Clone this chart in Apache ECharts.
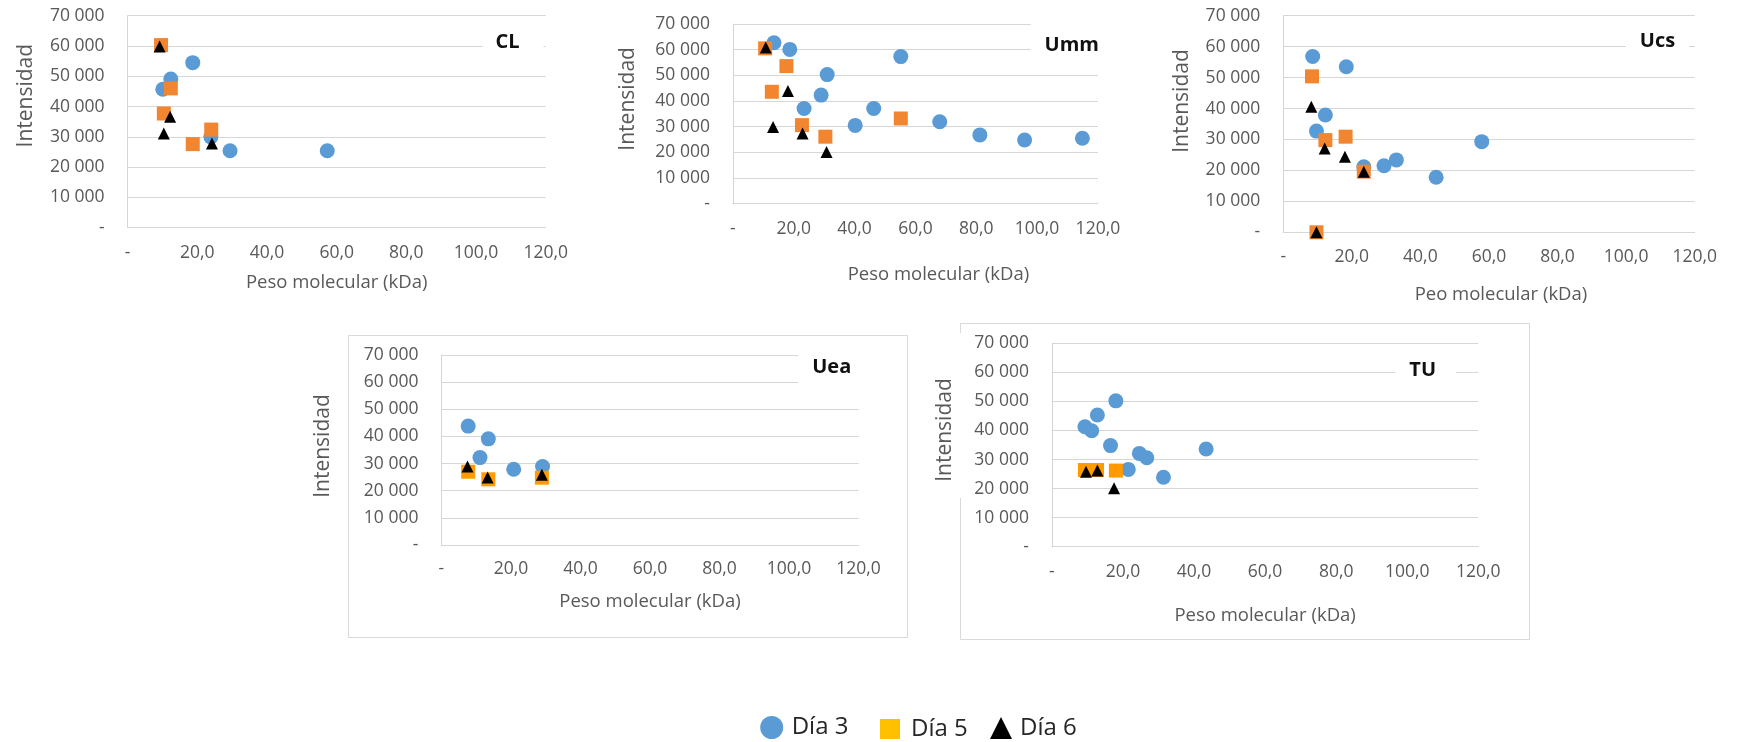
<!DOCTYPE html>
<html>
<head>
<meta charset="utf-8">
<title>Intensidad vs peso molecular</title>
<script src="https://cdn.jsdelivr.net/npm/echarts@6/dist/echarts.min.js"></script>
<style>
  html, body { margin: 0; padding: 0; background: #fff; }
  #chart { width: 1742px; height: 742px; }
</style>
</head>
<body>
<div id="chart"></div>
<script>
// Series names and data: [peso molecular (kDa), intensidad]
const dayNames = ['Día 3', 'Día 5', 'Día 6'];

const clDia3 = [[10.1, 45700], [12.4, 49100], [18.7, 54500], [23.9, 30000], [29.4, 25400], [57.3, 25400]];
const clDia5 = [[9.6, 60300], [12.4, 46000], [10.4, 37700], [18.7, 27600], [24.0, 32400]];
const clDia6 = [[9.2, 59800], [12.2, 36600], [10.4, 31100], [24.2, 27800]];

const ummDia3 = [[13.5, 62700], [18.7, 60100], [31.0, 50300], [29.0, 42300], [23.4, 37100], [40.2, 30500],
                 [46.3, 37100], [55.2, 57300], [68.0, 31900], [81.2, 26800], [95.9, 24800], [114.9, 25500]];
const ummDia5 = [[10.6, 60500], [17.6, 53600], [12.8, 43600], [22.7, 30600], [30.4, 26100], [55.2, 33200]];
const ummDia6 = [[10.8, 60800], [18.1, 43900], [13.2, 29900], [22.9, 27300], [30.8, 20100]];

const ucsDia3 = [[8.6, 56800], [18.4, 53500], [12.3, 37900], [9.7, 32700], [23.5, 21200], [29.4, 21500],
                 [33.0, 23400], [44.6, 17800], [57.9, 29300]];
const ucsDia5 = [[8.4, 50400], [12.3, 29800], [18.2, 30900], [23.5, 19600], [9.7, 0]];
const ucsDia6 = [[8.2, 40600], [12.1, 27100], [18.0, 24400], [23.5, 19600], [9.7, 0]];

const ueaDia3 = [[7.7, 43800], [13.5, 39100], [11.1, 32200], [20.8, 27900], [29.1, 28900]];
const ueaDia5 = [[7.7, 27000], [13.5, 24200], [28.9, 24800]];
const ueaDia6 = [[7.5, 28900], [13.3, 24900], [28.9, 25900]];

const tuDia3 = [[9.3, 41300], [11.2, 39900], [12.8, 45300], [18.0, 50200], [16.5, 34800], [24.6, 32100],
                [26.7, 30600], [21.5, 26600], [31.4, 23900], [43.4, 33600]];
const tuDia5 = [[9.3, 26400], [12.7, 26400], [18.0, 26200]];
const tuDia6 = [[9.6, 25800], [12.8, 26200], [17.5, 20100]];

// Axis ranges shared by all panels
const xMax = 120, xStep = 20;
const yMax = 70000, yStep = 10000;

const panels = [
  { title: 'CL',  xName: 'Peso molecular (kDa)', yName: 'Intensidad', series: [clDia3, clDia5, clDia6] },
  { title: 'Umm', xName: 'Peso molecular (kDa)', yName: 'Intensidad', series: [ummDia3, ummDia5, ummDia6] },
  { title: 'Ucs', xName: 'Peo molecular (kDa)',  yName: 'Intensidad', series: [ucsDia3, ucsDia5, ucsDia6] },
  { title: 'Uea', xName: 'Peso molecular (kDa)', yName: 'Intensidad', series: [ueaDia3, ueaDia5, ueaDia6] },
  { title: 'TU',  xName: 'Peso molecular (kDa)', yName: 'Intensidad', series: [tuDia3, tuDia5, tuDia6] }
];

// Placement of each small chart on the page
const layout = [
  { grid: { left: 127.6, top: 15.7, width: 418.1, height: 212 },
    title: { cx: 507.6, cy: 42.7, pad: [6, 24, 6, 13] },
    xGap: 46, xShift: 0, yGap: 91, yShift: 26, labelMargin: 16, square: '#F28530' },
  { grid: { left: 732.9, top: 24, width: 365, height: 179.7 },
    title: { cx: 1071.8, cy: 45, pad: [13, 8, 13, 14] },
    xGap: 62, xShift: 23, yGap: 94, yShift: 15, labelMargin: 16, square: '#F28530' },
  { grid: { left: 1283.2, top: 15.7, width: 411.5, height: 216.6 },
    title: { cx: 1657.5, cy: 41.7, pad: [5, 14, 5, 14] },
    xGap: 53, xShift: 12, yGap: 91, yShift: 23, labelMargin: 16, square: '#F28530' },
  { grid: { left: 441.4, top: 355, width: 417.2, height: 190 },
    title: { cx: 831.7, cy: 367.3, pad: [7, 14, 7, 14] },
    xGap: 47, xShift: 0, yGap: 108, yShift: 4, labelMargin: 15, square: '#FF9A00' },
  { grid: { left: 1051.9, top: 343.3, width: 426.4, height: 203.4 },
    title: { cx: 1422.7, cy: 370.7, pad: [5, 20, 5, 14] },
    xGap: 60, xShift: 0, yGap: 96, yShift: 15, labelMargin: 16, square: '#FF9A00' }
];

// Legend entries: icon, colour, icon size, icon left edge, gap before text
const legendItems = [
  { name: 'Día 3', icon: 'circle',   color: '#5B9BD5', size: 23, left: 760.2, textPad: 3.5 },
  { name: 'Día 5', icon: 'rect',     color: '#FFC000', size: 20, left: 880,   textPad: 6 },
  { name: 'Día 6', icon: 'triangle', color: '#000000', size: 22, left: 990,   textPad: 3 }
];
const legendCenterY = 727;

const FONT = "'Open Sans', 'Liberation Sans', sans-serif";
const LABEL_GRAY = '#595959';
const GRID_GRAY = '#D6D6D6';
const BLUE = '#5B9BD5';

function fmtX(v) {
  return v === 0 ? '-' : v.toFixed(1).replace('.', ',');
}
function fmtY(v) {
  return v === 0 ? '-' : String(v).replace(/\B(?=(\d{3})+(?!\d))/g, ' ');
}

const grids = [], xAxes = [], yAxes = [], titles = [], series = [];

panels.forEach((p, i) => {
  const L = layout[i];
  grids.push(Object.assign({ containLabel: false, outerBoundsMode: 'none' }, L.grid));

  xAxes.push({
    type: 'value', gridIndex: i, min: 0, max: xMax, interval: xStep,
    name: p.xName, nameLocation: 'middle', nameGap: L.xGap,
    nameTextStyle: { fontFamily: FONT, fontSize: 18.5, lineHeight: 19, color: LABEL_GRAY,
                     padding: [0, 0, 0, 2 * L.xShift] },
    axisLine: { show: true, lineStyle: { color: GRID_GRAY, width: 1 } },
    axisTick: { show: false },
    splitLine: { show: false },
    axisLabel: { formatter: fmtX, margin: L.labelMargin, fontFamily: FONT, fontSize: 17.5,
                 lineHeight: 18, color: LABEL_GRAY, showMinLabel: true, showMaxLabel: true, hideOverlap: false }
  });

  yAxes.push({
    type: 'value', gridIndex: i, min: 0, max: yMax, interval: yStep,
    name: p.yName, nameLocation: 'middle', nameRotate: 90, nameGap: L.yGap,
    nameTextStyle: { fontFamily: FONT, fontSize: 21, lineHeight: 21, color: LABEL_GRAY,
                     padding: [0, 0, 0, 2 * L.yShift] },
    axisLine: { show: true, lineStyle: { color: GRID_GRAY, width: 1 } },
    axisTick: { show: false },
    splitLine: { show: true, lineStyle: { color: GRID_GRAY, width: 1 } },
    axisLabel: { formatter: fmtY, margin: 23, fontFamily: FONT, fontSize: 17.5,
                 color: LABEL_GRAY, showMinLabel: true, showMaxLabel: true, hideOverlap: false }
  });

  // Panel label sits on a white box that interrupts the gridlines behind it
  titles.push({
    text: p.title,
    left: L.title.cx - L.title.pad[3],
    top: L.title.cy - L.title.pad[0],
    textAlign: 'center', textVerticalAlign: 'middle',
    padding: L.title.pad, backgroundColor: '#ffffff',
    textStyle: { fontFamily: FONT, fontSize: 20, fontWeight: 'bold', color: '#111', lineHeight: 20 },
    z: 5
  });

  const symbols = [
    { symbol: 'circle', size: 15, color: BLUE },
    { symbol: 'rect', size: 14, color: L.square },
    { symbol: 'triangle', size: 12, color: '#000000' }
  ];
  p.series.forEach((data, j) => {
    series.push({
      type: 'scatter', name: dayNames[j], xAxisIndex: i, yAxisIndex: i,
      symbol: symbols[j].symbol, symbolSize: symbols[j].size,
      itemStyle: { color: symbols[j].color, opacity: 1 },
      emphasis: { disabled: true },
      clip: false,
      data: data
    });
  });
});

// One legend block per entry so each key sits at its own place
const legends = legendItems.map(it => ({
  left: it.left,
  top: legendCenterY - it.size / 2,
  padding: 0,
  itemWidth: it.size, itemHeight: it.size,
  selectedMode: false,
  textStyle: { fontFamily: FONT, fontSize: 24, lineHeight: 24, color: '#262626', padding: [0, 0, 0, it.textPad] },
  data: [{ name: it.name, icon: it.icon, itemStyle: { color: it.color } }]
}));

const option = {
  backgroundColor: '#ffffff',
  animation: false,
  textStyle: { fontFamily: FONT },
  title: titles,
  grid: grids,
  xAxis: xAxes,
  yAxis: yAxes,
  series: series,
  legend: legends,
  graphic: [
    // frame of the Uea chart
    { type: 'rect', z: -10, silent: true,
      shape: { x: 348.5, y: 335.5, width: 559, height: 302 },
      style: { fill: null, stroke: '#D9D9D9', lineWidth: 1 } },
    // frame of the TU chart, open where its axis title crosses the left edge
    { type: 'polyline', z: -10, silent: true,
      shape: { points: [[960.5, 498], [960.5, 639.5], [1529.5, 639.5], [1529.5, 323.5], [960.5, 323.5], [960.5, 333]] },
      style: { fill: null, stroke: '#D9D9D9', lineWidth: 1 } }
  ]
};

const chart = echarts.init(document.getElementById('chart'), null, { renderer: 'canvas' });
chart.setOption(option);
</script>
</body>
</html>
